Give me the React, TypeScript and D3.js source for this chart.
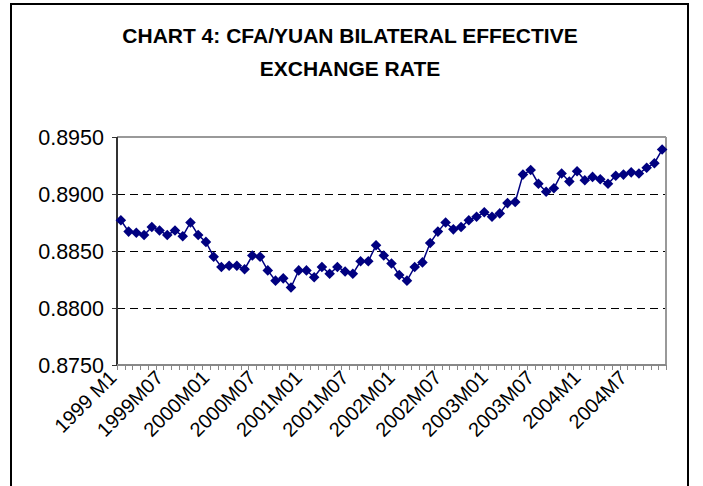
import React from 'react';
import * as d3 from 'd3';

const values = [
  0.8877, 0.8867, 0.8866, 0.8864, 0.8871, 0.8868, 0.8864, 0.8868, 0.8863, 0.8875,
  0.8864, 0.8858, 0.8845, 0.8836, 0.8837, 0.8837, 0.8834, 0.8846, 0.8845, 0.8833,
  0.8824, 0.8826, 0.8818, 0.8833, 0.8833, 0.8827, 0.8836, 0.8830, 0.8836, 0.8832,
  0.8830, 0.8841, 0.8841, 0.8855, 0.8846, 0.8839, 0.8829, 0.8824, 0.8836, 0.8840,
  0.8857, 0.8867, 0.8875, 0.8869, 0.8871, 0.8877, 0.8880, 0.8884, 0.8880, 0.8883,
  0.8892, 0.8893, 0.8917, 0.8921, 0.8909, 0.8902, 0.8905, 0.8918, 0.8911, 0.8920,
  0.8912, 0.8915, 0.8913, 0.8909, 0.8916, 0.8917, 0.8919, 0.8918, 0.8923, 0.8927,
  0.8939,
];
const tickLabels = [
  '1999 M1', '1999M07', '2000M01', '2000M07', '2001M01', '2001M07',
  '2002M01', '2002M07', '2003M01', '2003M07', '2004M1', '2004M7',
];
const labelEvery = 6;
const yTicks = [0.875, 0.88, 0.885, 0.89, 0.895];
const titleLines = ['CHART 4: CFA/YUAN BILATERAL EFFECTIVE', 'EXCHANGE RATE'];

export default function App() {
  const W = 703, H = 486;
  const plot = { left: 117, right: 666, top: 137, bottom: 365 };
  const idx = d3.range(values.length);
  const x = d3.scaleBand<number>().domain(idx).range([plot.left, plot.right]);
  const cx = (i: number) => (x(i) as number) + x.bandwidth() / 2;
  const y = d3.scaleLinear().domain([0.875, 0.895]).range([plot.bottom, plot.top]);
  const line = d3.line<number>().x((_, i) => cx(i)).y((d) => y(d));
  const diamond = d3.symbol().type(d3.symbolSquare).size(56)() as string;
  const fmt = d3.format('.4f');
  const font = 'Liberation Sans, Arial, sans-serif';
  const boundaries = d3.range(values.length + 1).map((i) => Math.round(plot.left + i * x.step()) + 0.5);
  const snap = (v: number) => Math.round(v) + 0.5;

  return (
    <svg width={W} height={H} style={{ position: 'absolute', left: 0, top: 0, background: '#fff' }}>
      <rect x={0} y={0} width={W} height={H} fill="#fff" />
      <rect x={11} y={4} width={677} height={500} fill="none" stroke="#000" strokeWidth={2} />
      {titleLines.map((t, i) => (
        <text key={i} x={350} y={43 + i * 33} textAnchor="middle" fontFamily={font}
          fontWeight="bold" fontSize={21} fill="#000">{t}</text>
      ))}
      {/* gridlines */}
      {yTicks.slice(1, -1).map((v) => (
        <line key={v} x1={plot.left} x2={plot.right} y1={snap(y(v))} y2={snap(y(v))}
          stroke="#000" strokeWidth={1} strokeDasharray="8,5" />
      ))}
      {/* plot border top/right */}
      <line x1={plot.left} x2={plot.right} y1={plot.top} y2={plot.top} stroke="#999" strokeWidth={2} />
      <line x1={plot.right} x2={plot.right} y1={plot.top} y2={plot.bottom} stroke="#999" strokeWidth={2} />
      {/* y axis */}
      <line x1={plot.left} x2={plot.left} y1={plot.top} y2={plot.bottom} stroke="#333" strokeWidth={2} />
      {yTicks.map((v) => (
        <g key={v}>
          <line x1={plot.left - 5} x2={plot.left} y1={snap(y(v))} y2={snap(y(v))} stroke="#333" strokeWidth={1} />
          <text x={104} y={y(v) + 7.5} textAnchor="end" fontFamily={font} fontSize={21.5} fill="#000">{fmt(v)}</text>
        </g>
      ))}
      {/* x axis */}
      <line x1={plot.left} x2={plot.right} y1={plot.bottom} y2={plot.bottom} stroke="#888" strokeWidth={2} />
      {boundaries.map((bx, i) => (
        <line key={i} x1={bx} x2={bx} y1={plot.bottom} y2={plot.bottom + 5} stroke="#888" strokeWidth={1} />
      ))}
      {tickLabels.map((t, k) => {
        const i = k * labelEvery;
        const tx = cx(i) - 3;
        const ty = plot.bottom + 14;
        return (
          <text key={t} x={0} y={0} transform={`translate(${tx},${ty}) rotate(-45)`} textAnchor="end"
            fontFamily={font} fontSize={20} fill="#000">{t}</text>
        );
      })}
      {/* series */}
      <path d={line(values) as string} fill="none" stroke="#000080" strokeWidth={1.5} />
      {values.map((v, i) => (
        <path key={i} d={diamond} transform={`translate(${cx(i)},${y(v)}) rotate(45)`} fill="#000080" />
      ))}
    </svg>
  );
}
